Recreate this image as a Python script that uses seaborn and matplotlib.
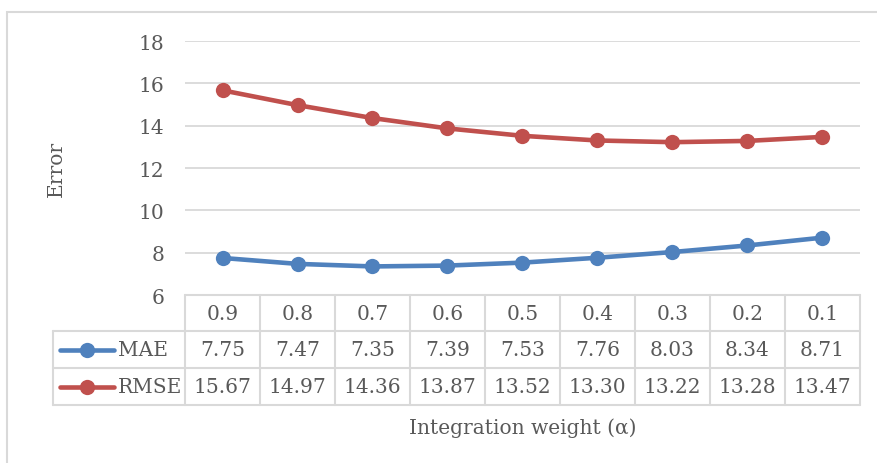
import matplotlib
matplotlib.use("Agg")
import matplotlib.pyplot as plt
from matplotlib.lines import Line2D
from matplotlib.patches import Rectangle
from matplotlib.transforms import blended_transform_factory
import seaborn as sns
import pandas as pd

# Integration weight categories and error metrics
alpha_labels = ["0.9", "0.8", "0.7", "0.6", "0.5", "0.4", "0.3", "0.2", "0.1"]
mae_values = [7.75, 7.47, 7.35, 7.39, 7.53, 7.76, 8.03, 8.34, 8.71]
rmse_values = [15.67, 14.97, 14.36, 13.87, 13.52, 13.30, 13.22, 13.28, 13.47]
series_names = ["MAE", "RMSE"]
y_ticks = [6, 8, 10, 12, 14, 16, 18]

series_colors = {"MAE": "#4F81BD", "RMSE": "#C0504D"}
text_color = "#595959"
grid_color = "#D9D9D9"
fs = 14.5

sns.set_theme(style="white")
plt.rcParams["font.family"] = ["DejaVu Serif"]

W, H = 878, 464
fig = plt.figure(figsize=(W / 100, H / 100), dpi=100)

# plot area in pixel coordinates
left_px, right_px, top_px, bottom_px = 185, 860, 42, 296
ax = fig.add_axes([left_px / W, 1 - bottom_px / H,
                   (right_px - left_px) / W, (bottom_px - top_px) / H])

positions = list(range(len(alpha_labels)))
df = pd.DataFrame({
    "pos": positions * 2,
    "value": mae_values + rmse_values,
    "series": ["MAE"] * len(mae_values) + ["RMSE"] * len(rmse_values),
})

sns.lineplot(data=df, x="pos", y="value", hue="series", palette=series_colors,
             marker="o", markersize=11, markeredgewidth=0, linewidth=3.3,
             legend=False, ax=ax, zorder=3)

ax.set_xlim(-0.5, len(alpha_labels) - 0.5)
ax.set_ylim(6, 18)
ax.set_yticks(y_ticks)
ax.set_yticklabels([str(t) for t in y_ticks], fontsize=fs, color=text_color)
ax.tick_params(axis="y", length=0, pad=15)
ax.set_xticks([])
ax.set_xlabel("")
ax.set_ylabel("")
for sp in ax.spines.values():
    sp.set_visible(False)
for t in y_ticks[1:]:
    ax.axhline(t, color=grid_color, linewidth=1.3, zorder=1)

# outer chart border
fig.add_artist(Rectangle((7 / W, -0.1), 1.2, 1 - 13 / H + 0.1,
                         transform=fig.transFigure, fill=False,
                         edgecolor=grid_color, linewidth=1.5))

# data table below the plot area
tr = blended_transform_factory(ax.transData, fig.transFigure)
fy = lambda py: 1 - py / H
fx = lambda px: px / W
row_lines = [296, 332, 369, 406]
lw_tab = 1.5
n = len(alpha_labels)

# horizontal rules
fig.add_artist(Line2D([-0.5, n - 0.5], [fy(row_lines[0])] * 2, transform=tr,
                      color=grid_color, linewidth=lw_tab))
for py in row_lines[1:]:
    fig.add_artist(Line2D([fx(53), fx(right_px)], [fy(py)] * 2,
                          transform=fig.transFigure, color=grid_color,
                          linewidth=lw_tab))
# vertical rules
for i in range(n + 1):
    fig.add_artist(Line2D([i - 0.5, i - 0.5], [fy(row_lines[0]), fy(row_lines[-1])],
                          transform=tr, color=grid_color, linewidth=lw_tab))
fig.add_artist(Line2D([fx(53), fx(53)], [fy(row_lines[1]), fy(row_lines[-1])],
                      transform=fig.transFigure, color=grid_color, linewidth=lw_tab))

# header row
hdr_y = fy((row_lines[0] + row_lines[1]) / 2)
for i, lab in enumerate(alpha_labels):
    fig.text(i, hdr_y, lab, transform=tr, fontsize=fs, color=text_color,
             ha="center", va="center")

# series rows with legend keys
for r, (name, vals) in enumerate(zip(series_names, [mae_values, rmse_values])):
    cy = fy((row_lines[r + 1] + row_lines[r + 2]) / 2)
    fig.add_artist(Line2D([fx(60), fx(114)], [cy, cy], transform=fig.transFigure,
                          color=series_colors[name], linewidth=3.3,
                          solid_capstyle="round"))
    fig.add_artist(Line2D([fx(87)], [cy], transform=fig.transFigure,
                          color=series_colors[name], marker="o",
                          markersize=11, markeredgewidth=0))
    fig.text(fx(118), cy, name, fontsize=fs, color=text_color,
             ha="left", va="center")
    for i, v in enumerate(vals):
        fig.text(i, cy, f"{v:.2f}", transform=tr, fontsize=fs,
                 color=text_color, ha="center", va="center")

# axis titles
fig.text(fx(56), fy((top_px + bottom_px) / 2), "Error", rotation=90,
         fontsize=fs, color=text_color, ha="center", va="center")
fig.text(fx((left_px + right_px) / 2), fy(428), "Integration weight (α)",
         fontsize=fs, color=text_color, ha="center", va="center")

fig.savefig("out.png", dpi=100, facecolor="white")
